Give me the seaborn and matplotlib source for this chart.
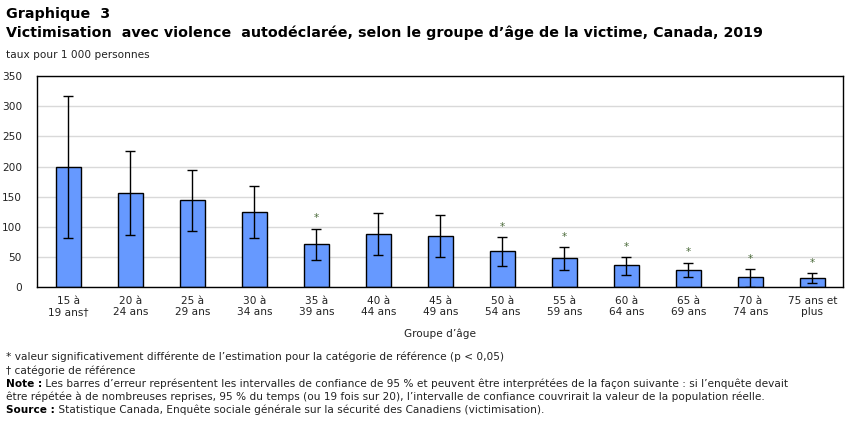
import numpy as np
import pandas as pd
import matplotlib
matplotlib.use("Agg")
import matplotlib.pyplot as plt
import seaborn as sns

# data
groups = ["15 à\n19 ans\u2020", "20 à\n24 ans", "25 à\n29 ans", "30 à\n34 ans",
          "35 à\n39 ans", "40 à\n44 ans", "45 à\n49 ans", "50 à\n54 ans",
          "55 à\n59 ans", "60 à\n64 ans", "65 à\n69 ans", "70 à\n74 ans",
          "75 ans et\nplus"]
rates = [200, 156, 144, 124, 72, 88, 85, 60, 48, 37, 28, 17, 15]
ci_low = [81, 86, 94, 81, 46, 53, 50, 35, 28, 21, 17, 1, 7]
ci_high = [317, 226, 194, 167, 97, 123, 119, 83, 66, 50, 41, 30, 23]
signif = [False, False, False, False, True, False, False, True, True, True, True, True, True]

df = pd.DataFrame({"groupe": groups, "taux": rates})

sns.set_style("white")
plt.rcParams["font.family"] = ["DejaVu Sans"]

fs = 7.6
fig = plt.figure(figsize=(8.51, 4.24), dpi=100)
ax = fig.add_axes([0.0438, 0.3224, 0.9472, 0.4984])

sns.barplot(data=df, x="groupe", y="taux", color="#6699FF", edgecolor="black",
            linewidth=1.0, width=0.4, saturation=1, ax=ax)

xpos = np.arange(len(groups))
lo = np.array(rates) - np.array(ci_low)
hi = np.array(ci_high) - np.array(rates)
ax.errorbar(xpos, rates, yerr=[lo, hi], fmt="none", ecolor="black",
            elinewidth=1.0, capsize=3.5, capthick=1.0, zorder=5)

for i, s in enumerate(signif):
    if s:
        ax.annotate("*", (xpos[i], ci_high[i]), xytext=(0, 4), textcoords="offset points",
                    ha="center", va="bottom", fontsize=7.5, color="#4a6a3a")

ax.set_ylim(0, 350)
ax.set_xlim(-0.5, len(groups) - 0.5)
ax.set_yticks(range(0, 351, 50))
ax.yaxis.grid(True, color="#d9d9d9", linewidth=1.0)
ax.set_axisbelow(True)
for sp in ax.spines.values():
    sp.set_color("black")
    sp.set_linewidth(1.0)
ax.tick_params(axis="both", length=0, labelsize=fs, colors="#222222")
ax.tick_params(axis="y", pad=11)
ax.tick_params(axis="x", pad=6)
ax.set_xlabel("Groupe d\u2019âge", fontsize=fs, color="#222222", labelpad=8)
ax.set_ylabel("")

fig.text(0.007, 0.967, "Graphique  3", fontsize=10.3, fontweight="bold", va="center", color="black")
fig.text(0.007, 0.922, "Victimisation  avec violence  autodéclarée, selon le groupe d\u2019âge de la victime, Canada, 2019",
         fontsize=10.3, fontweight="bold", va="center", color="black")
fig.text(0.007, 0.870, "taux pour 1 000 personnes", fontsize=fs, va="center", color="#222222")

renderer = fig.canvas.get_renderer()


def mixed_line(y, bold, rest):
    x0 = 0.007
    if bold:
        t = fig.text(x0, y, bold, fontsize=fs, fontweight="bold", va="center", color="black")
        bb = t.get_window_extent(renderer=renderer)
        x0 = bb.x1 / fig.bbox.width
    fig.text(x0, y, rest, fontsize=fs, va="center", color="#222222")


lines_y = [1 - 357 / 424, 1 - 371 / 424, 1 - 384 / 424, 1 - 397 / 424, 1 - 410 / 424]
mixed_line(lines_y[0], "", "* valeur significativement différente de l\u2019estimation pour la catégorie de référence (p < 0,05)")
mixed_line(lines_y[1], "", "\u2020 catégorie de référence")
mixed_line(lines_y[2], "Note :", " Les barres d\u2019erreur représentent les intervalles de confiance de 95 % et peuvent être interprétées de la façon suivante : si l\u2019enquête devait")
mixed_line(lines_y[3], "", "être répétée à de nombreuses reprises, 95 % du temps (ou 19 fois sur 20), l\u2019intervalle de confiance couvrirait la valeur de la population réelle.")
mixed_line(lines_y[4], "Source :", " Statistique Canada, Enquête sociale générale sur la sécurité des Canadiens (victimisation).")

fig.savefig("out.png", dpi=100)
